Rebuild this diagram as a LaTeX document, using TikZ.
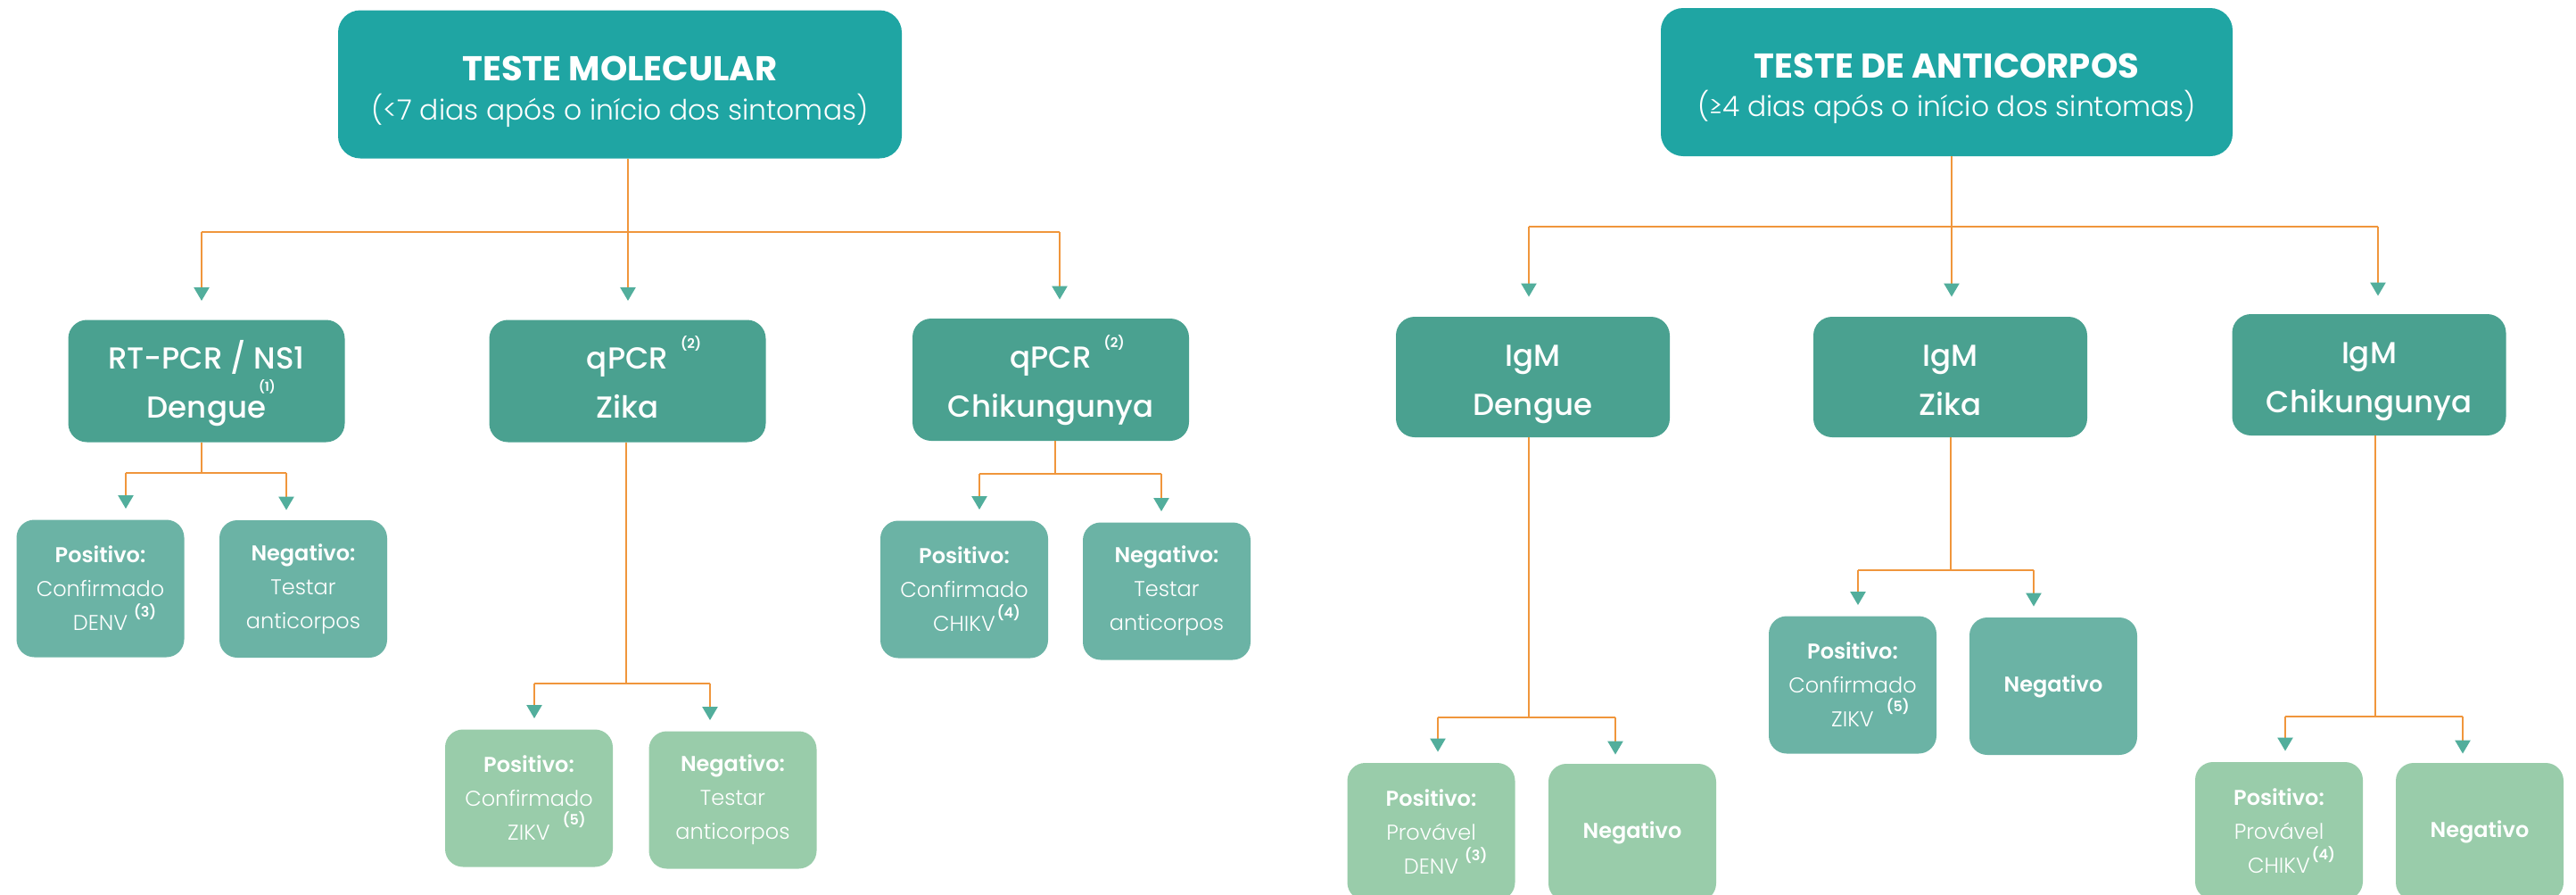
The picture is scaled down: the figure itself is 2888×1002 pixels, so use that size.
\documentclass[tikz,border=0pt]{standalone}
\usepackage{fontspec}
\setmainfont{Poppins}
\newfontfamily\fLight{Poppins Light}
\newfontfamily\fMed{Poppins Medium}
\newfontfamily\fSemi{Poppins SemiBold}
\newfontfamily\fBold{Poppins Bold}
\usetikzlibrary{arrows.meta}
\definecolor{topc}{HTML}{1FA5A3}
\definecolor{midc}{HTML}{4AA190}
\definecolor{leafa}{HTML}{6BB3A5}
\definecolor{leafb}{HTML}{99CCAA}
\definecolor{linec}{HTML}{F0963C}
\definecolor{arrc}{HTML}{52AE9C}
\newcommand\mkref[4]{\rlap{\hspace{#1}\smash{\raisebox{#2}{\fSemi\fontsize{#3}{#3}\selectfont(#4)}}}}
\newcommand\tstrut[1]{\rule{0pt}{#1}}
\newcommand\bstrut{\rule[-5pt]{0pt}{5pt}}
\begin{document}
\begin{tikzpicture}[x=0.5pt,y=-0.5pt,
  box/.style={inner sep=0pt, text=white, align=center},
  topbox/.style={box, fill=topc, rounded corners=12.5pt, minimum width=316pt, minimum height=83pt, font=\fontsize{15.7}{21.8}\selectfont},
  midbox/.style={box, fill=midc, rounded corners=10.5pt, minimum width=155pt, minimum height=68.5pt, font=\fMed\fontsize{17}{27.5}\selectfont},
  leafbox/.style={box, rounded corners=10pt, minimum width=94pt, minimum height=77pt, font=\fLight\fontsize{12}{19}\selectfont},
  leafA/.style={leafbox, fill=leafa},
  leafB/.style={leafbox, fill=leafb},
  conn/.style={draw=linec, line width=1.15pt},
  arr/.style={conn, -{Triangle[color=arrc, length=7.5pt, width=8.5pt]}}
]
\useasboundingbox (0,0) rectangle (2888,1002);
\clip (0,0) rectangle (2888,1002);

% ---------- top boxes ----------
\node[topbox] (TM) at (695,94.5) {\tstrut{23pt}{\fBold\fontsize{19.3}{21.8}\selectfont TESTE MOLECULAR}\\{\fLight(<7 dias após o início dos sintomas)}\bstrut};
\node[topbox, minimum width=320.5pt] (TA) at (2182.5,92) {\tstrut{21.8pt}{\fBold\fontsize{19.3}{21.8}\selectfont TESTE DE ANTICORPOS}\\{\fLight(≥4 dias após o início dos sintomas)}\bstrut};

% ---------- second level ----------
\node[midbox] (RT) at (231.5,427) {\tstrut{19pt}RT-PCR / NS1\\Dengue\mkref{-4pt}{15pt}{7}{1}\bstrut};
\node[midbox] (ZK) at (703.5,427) {\tstrut{19pt}qPCR\mkref{7pt}{11.5pt}{7.5}{2}\\Zika\bstrut};
\node[midbox] (CH) at (1178,425.5) {\tstrut{19pt}qPCR\mkref{7pt}{11.5pt}{7.5}{2}\\Chikungunya\bstrut};
\node[midbox, minimum width=153.5pt, minimum height=67.5pt] (IGD) at (1718.5,422.5) {\tstrut{20pt}IgM\\Dengue\bstrut};
\node[midbox, minimum width=153.5pt, minimum height=67.5pt] (IGZ) at (2186.5,422.5) {\tstrut{20pt}IgM\\Zika\bstrut};
\node[midbox, minimum width=153.5pt, minimum height=68pt] (IGC) at (2656,420) {\tstrut{20pt}IgM\\Chikungunya\bstrut};

% ---------- leaves ----------
\node[leafA] (P1) at (112.5,659.5) {{\fSemi Positivo:}\\Confirmado\\DENV\mkref{3.5pt}{7.5pt}{8}{3}};
\node[leafA] (N1) at (340,660) {{\fSemi Negativo:}\\Testar\\anticorpos};
\node[leafB] (P2) at (593,894.5) {{\fSemi Positivo:}\\Confirmado\\ZIKV\mkref{7pt}{8.5pt}{8}{5}};
\node[leafB] (N2) at (821.5,896.5) {{\fSemi Negativo:}\\Testar\\anticorpos};
\node[leafA] (P3) at (1081,660.5) {{\fSemi Positivo:}\\Confirmado\\CHIKV\mkref{1pt}{7.5pt}{8}{4}};
\node[leafA] (N3) at (1308,662.5) {{\fSemi Negativo:}\\Testar\\anticorpos};
\node[leafB] (P4) at (1604.5,932) {{\fSemi Positivo:}\\Provável\\DENV\mkref{3.5pt}{7.5pt}{8}{3}};
\node[leafB] (N4) at (1830,933) {\fSemi Negativo};
\node[leafA] (P5) at (2077,767.5) {{\fSemi Positivo:}\\Confirmado\\ZIKV\mkref{7pt}{8.5pt}{8}{5}};
\node[leafA] (N5) at (2302,769) {\fSemi Negativo};
\node[leafB] (P6) at (2555,931) {{\fSemi Positivo:}\\Provável\\CHIKV\mkref{1pt}{7.5pt}{8}{4}};
\node[leafB] (N6) at (2780,932) {\fSemi Negativo};

% ---------- junction coordinates ----------
\coordinate (tmJ) at (704,260); \coordinate (tmL) at (226,260); \coordinate (tmR) at (1188,260);
\coordinate (taJ) at (2188,254); \coordinate (taL) at (1714,254); \coordinate (taR) at (2666,254);
\coordinate (rtJ) at (226,530); \coordinate (rtL) at (141,530); \coordinate (rtR) at (321,530);
\coordinate (zkJ) at (702,766); \coordinate (zkL) at (599,766); \coordinate (zkR) at (796,766);
\coordinate (chJ) at (1183,531); \coordinate (chL) at (1098,531); \coordinate (chR) at (1302,531);
\coordinate (idJ) at (1714,804); \coordinate (idL) at (1612,804); \coordinate (idR) at (1811,804);
\coordinate (izJ) at (2187,639); \coordinate (izL) at (2083,639); \coordinate (izR) at (2280,639);
\coordinate (icJ) at (2663,803); \coordinate (icL) at (2562,803); \coordinate (icR) at (2761,803);

% ---------- connectors: molecular ----------
\draw[conn] (TM.south -| tmJ) -- (tmJ);
\draw[conn] (tmL) -- (tmR);
\draw[arr, shorten >=10.5pt] (tmL) -- (RT.north -| tmL);
\draw[arr, shorten >=10.5pt] (tmJ) -- (ZK.north -| tmJ);
\draw[arr, shorten >=10.5pt] (tmR) -- (CH.north -| tmR);

\draw[conn] (RT.south -| rtJ) -- (rtJ);
\draw[conn] (rtL) -- (rtR);
\draw[arr, shorten >=6pt] (rtL) -- (P1.north -| rtL);
\draw[arr, shorten >=5.5pt] (rtR) -- (N1.north -| rtR);

\draw[conn] (ZK.south -| zkJ) -- (zkJ);
\draw[conn] (zkL) -- (zkR);
\draw[arr, shorten >=6pt] (zkL) -- (P2.north -| zkL);
\draw[arr, shorten >=6pt] (zkR) -- (N2.north -| zkR);

\draw[conn] (CH.south -| chJ) -- (chJ);
\draw[conn] (chL) -- (chR);
\draw[arr, shorten >=6pt] (chL) -- (P3.north -| chL);
\draw[arr, shorten >=6pt] (chR) -- (N3.north -| chR);

% ---------- connectors: antibodies ----------
\draw[conn] (TA.south -| taJ) -- (taJ);
\draw[conn] (taL) -- (taR);
\draw[arr, shorten >=11pt] (taL) -- (IGD.north -| taL);
\draw[arr, shorten >=11pt] (taJ) -- (IGZ.north -| taJ);
\draw[arr, shorten >=10pt] (taR) -- (IGC.north -| taR);

\draw[conn] (IGD.south -| idJ) -- (idJ);
\draw[conn] (idL) -- (idR);
\draw[arr, shorten >=6pt] (idL) -- (P4.north -| idL);
\draw[arr, shorten >=5pt] (idR) -- (N4.north -| idR);

\draw[conn] (IGZ.south -| izJ) -- (izJ);
\draw[conn] (izL) -- (izR);
\draw[arr, shorten >=6pt] (izL) -- (P5.north -| izL);
\draw[arr, shorten >=6pt] (izR) -- (N5.north -| izR);

\draw[conn] (IGC.south -| icJ) -- (icJ);
\draw[conn] (icL) -- (icR);
\draw[arr, shorten >=6pt] (icL) -- (P6.north -| icL);
\draw[arr, shorten >=5pt] (icR) -- (N6.north -| icR);
\end{tikzpicture}
\end{document}
